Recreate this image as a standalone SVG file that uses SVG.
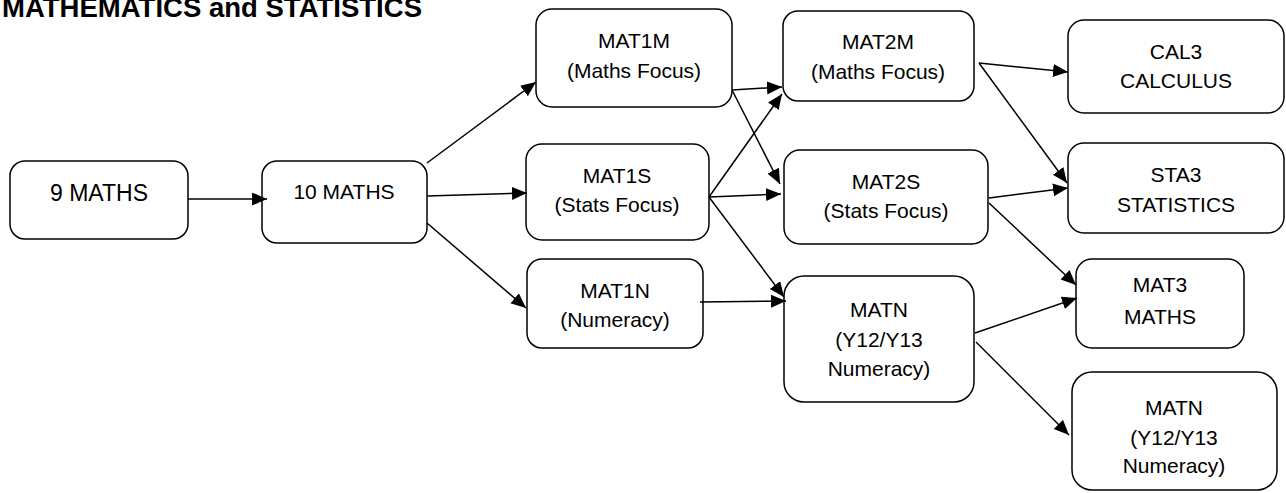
<svg xmlns="http://www.w3.org/2000/svg" width="1286" height="493" viewBox="0 0 1286 493">
<defs>
<marker id="ah" markerUnits="userSpaceOnUse" markerWidth="16" markerHeight="14" refX="15" refY="6.5" orient="auto">
<path d="M0,0 L15,6.5 L0,13 z" fill="#000"/>
</marker>
<style>
.box{fill:#fff;stroke:#000;stroke-width:1.5}
.t{font-family:"Liberation Sans",Arial,sans-serif;font-size:21px;fill:#000;text-anchor:middle}
.big{font-size:23px}
.title{font-family:"Liberation Sans",Arial,sans-serif;font-size:27px;font-weight:bold;fill:#000}
.c line{stroke:#000;stroke-width:1.5;marker-end:url(#ah)}
</style>
</defs>
<rect width="1286" height="493" fill="#fff"/>
<text class="title" x="2" y="17" textLength="420" lengthAdjust="spacingAndGlyphs">MATHEMATICS and STATISTICS</text>

<g id="n9maths"><rect class="box" x="10" y="161" width="178" height="78" rx="15"/><text class="t big" x="99" y="201">9 MATHS</text></g>
<g id="n10maths"><rect class="box" x="262" y="161" width="165" height="82" rx="15"/><text class="t" x="344" y="199">10 MATHS</text></g>
<g id="mat1m"><rect class="box" x="536" y="9" width="196" height="98" rx="16"/><text class="t" x="634" y="48">MAT1M</text><text class="t" x="634" y="78">(Maths Focus)</text></g>
<g id="mat1s"><rect class="box" x="526" y="144" width="183" height="96" rx="16"/><text class="t" x="617" y="183">MAT1S</text><text class="t" x="617" y="212">(Stats Focus)</text></g>
<g id="mat1n"><rect class="box" x="527" y="259" width="176" height="89" rx="15"/><text class="t" x="615" y="298">MAT1N</text><text class="t" x="615" y="327">(Numeracy)</text></g>
<g id="mat2m"><rect class="box" x="783" y="11" width="191" height="90" rx="15"/><text class="t" x="878" y="49">MAT2M</text><text class="t" x="878" y="79">(Maths Focus)</text></g>
<g id="mat2s"><rect class="box" x="784" y="150" width="204" height="94" rx="16"/><text class="t" x="886" y="189">MAT2S</text><text class="t" x="886" y="218">(Stats Focus)</text></g>
<g id="matn1"><rect class="box" x="784" y="276" width="190" height="126" rx="20"/><text class="t" x="879" y="317">MATN</text><text class="t" x="879" y="347">(Y12/Y13</text><text class="t" x="879" y="376">Numeracy)</text></g>
<g id="cal3"><rect class="box" x="1068" y="20" width="216" height="93" rx="16"/><text class="t" x="1176" y="59">CAL3</text><text class="t" x="1176" y="88">CALCULUS</text></g>
<g id="sta3"><rect class="box" x="1068" y="143" width="216" height="90" rx="16"/><text class="t" x="1176" y="182">STA3</text><text class="t" x="1176" y="212">STATISTICS</text></g>
<g id="mat3"><rect class="box" x="1076" y="259" width="168" height="89" rx="16"/><text class="t" x="1160" y="292">MAT3</text><text class="t" x="1160" y="324">MATHS</text></g>
<g id="matn2"><rect class="box" x="1072" y="372" width="205" height="118" rx="20"/><text class="t" x="1174" y="415">MATN</text><text class="t" x="1174" y="445">(Y12/Y13</text><text class="t" x="1174" y="473">Numeracy)</text></g>

<g id="connectors" class="c">
<line x1="188" y1="199" x2="267" y2="199"/>
<line x1="427" y1="163" x2="536" y2="82"/>
<line x1="427" y1="196" x2="527" y2="193"/>
<line x1="427" y1="223" x2="526" y2="308"/>
<line x1="732" y1="90" x2="782" y2="87"/>
<line x1="732" y1="90" x2="780" y2="184"/>
<line x1="709" y1="197" x2="782" y2="94"/>
<line x1="709" y1="197" x2="781" y2="194"/>
<line x1="709" y1="197" x2="784" y2="297"/>
<line x1="700" y1="302" x2="786" y2="301"/>
<line x1="979" y1="63" x2="1068" y2="72"/>
<line x1="979" y1="63" x2="1067" y2="183"/>
<line x1="989" y1="198" x2="1068" y2="188"/>
<line x1="989" y1="203" x2="1076" y2="285"/>
<line x1="975" y1="333" x2="1077" y2="298"/>
<line x1="976" y1="342" x2="1069" y2="435"/>
</g>
</svg>
